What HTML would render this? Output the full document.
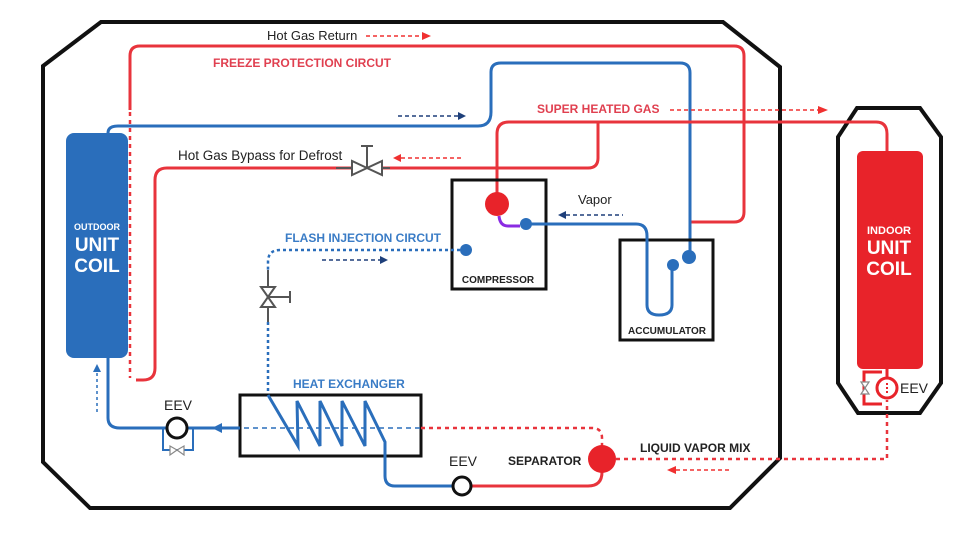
<!DOCTYPE html>
<html><head><meta charset="utf-8"><style>
html,body{margin:0;padding:0;background:#fff;}
svg{display:block;}
text{font-family:"Liberation Sans",sans-serif;}
.b{font-weight:bold;}
</style></head><body>
<svg width="960" height="544" viewBox="0 0 960 544" xmlns="http://www.w3.org/2000/svg">
<polygon points="43,66 101,22 723,22 780,67 780,458 730,508 90,508 43,462" fill="none" stroke="#111" stroke-width="4"/>
<polygon points="857,108 920,108 941,137 941,383 920,413 858,413 838,383 838,137" fill="none" stroke="#111" stroke-width="4"/>
<rect x="66" y="133" width="62" height="225" rx="8" fill="#2a6ebb"/>
<rect x="857" y="151" width="66" height="218" rx="6" fill="#e8232a"/>
<text x="97" y="230" fill="#fff" font-size="9" class="b" text-anchor="middle">OUTDOOR</text>
<text x="97" y="251" fill="#fff" font-size="19" class="b" text-anchor="middle">UNIT</text>
<text x="97" y="272" fill="#fff" font-size="19" class="b" text-anchor="middle">COIL</text>
<text x="889" y="234" fill="#fff" font-size="11" class="b" text-anchor="middle">INDOOR</text>
<text x="889" y="254" fill="#fff" font-size="19" class="b" text-anchor="middle">UNIT</text>
<text x="889" y="275" fill="#fff" font-size="19" class="b" text-anchor="middle">COIL</text>

<path d="M130,110 L130,56 Q130,46 140,46 L734,46 Q744,46 744,56 L744,212 Q744,222 734,222 L690,222" fill="none" stroke="#e8343c" stroke-width="3"/>
<path d="M130,112 L130,378" fill="none" stroke="#e8343c" stroke-width="2.5" stroke-dasharray="4,4"/>
<path d="M108,133 Q108,126 118,126 L478,126 Q491,126 491,112 L491,72 Q491,63 501,63 L680,63 Q690,63 690,73 L690,257" fill="none" stroke="#2a6ebb" stroke-width="3"/>
<path d="M497,200 L497,134 Q497,122 509,122 L876,122 Q887,122 887,134 L887,151" fill="none" stroke="#e8343c" stroke-width="3"/>
<path d="M598,122 L598,158 Q598,168 588,168 L380,168 M354,168 L167,168 Q155,168 155,180 L155,368 Q155,380 143,380 L136,380" fill="none" stroke="#e8343c" stroke-width="3"/>
<g stroke="#555" stroke-width="2" fill="#fff">
<line x1="336" y1="168" x2="390" y2="168"/>
<polygon points="352,161 352,175 367,168"/>
<polygon points="382,161 382,175 367,168"/>
<line x1="367" y1="168" x2="367" y2="146"/><line x1="361" y1="146" x2="373" y2="146"/>
</g>
<rect x="452" y="180" width="94" height="109" fill="none" stroke="#111" stroke-width="3"/>
<circle cx="497" cy="204" r="12" fill="#e8232a"/>
<path d="M499,216 Q500,226 508,226 L520,226" fill="none" stroke="#8a2be2" stroke-width="3"/>
<circle cx="526" cy="224" r="6" fill="#2a6ebb"/>
<circle cx="466" cy="250" r="6" fill="#2a6ebb"/>
<text x="498" y="283" font-size="10" class="b" text-anchor="middle" fill="#222">COMPRESSOR</text>
<rect x="620" y="240" width="93" height="100" fill="none" stroke="#111" stroke-width="3"/>
<path d="M526,224 L636,224 Q647,224 647,236 L647,305 Q647,315 659,315 Q672,315 672,305 L672,265" fill="none" stroke="#2a6ebb" stroke-width="3"/>
<circle cx="673" cy="265" r="6" fill="#2a6ebb"/>
<circle cx="689" cy="257" r="7" fill="#2a6ebb"/>
<text x="667" y="334" font-size="10" class="b" text-anchor="middle" fill="#222">ACCUMULATOR</text>
<path d="M460,250 L280,250 Q268,250 268,262 L268,272" fill="none" stroke="#2a6ebb" stroke-width="2.5" stroke-dasharray="3,3"/>
<path d="M268,322 L268,395" fill="none" stroke="#2a6ebb" stroke-width="2.5" stroke-dasharray="3,3"/>
<g stroke="#555" stroke-width="2" fill="#fff">
<line x1="268" y1="270" x2="268" y2="322"/>
<polygon points="261,287 275,287 268,297"/>
<polygon points="261,307 275,307 268,297"/>
<line x1="268" y1="297" x2="290" y2="297"/><line x1="290" y1="291" x2="290" y2="303"/>
</g>
<rect x="240" y="395" width="181" height="61" fill="none" stroke="#111" stroke-width="3"/>
<line x1="208" y1="428" x2="421" y2="428" stroke="#2a6ebb" stroke-width="1.5" stroke-dasharray="5,4"/>
<polyline points="268,395 298,446 297,401 320,446 320,401 342,446 342,401 365,446 365,401 385,442 385,460" fill="none" stroke="#2a6ebb" stroke-width="3"/>
<path d="M385,458 L385,476 Q385,486 395,486 L453,486" fill="none" stroke="#2a6ebb" stroke-width="3"/>
<path d="M471,486 L588,486 Q602,486 602,472" fill="none" stroke="#e8343c" stroke-width="3"/>
<circle cx="462" cy="486" r="9" fill="#fff" stroke="#111" stroke-width="3"/>
<path d="M421,428 L592,428 Q602,428 602,438 L602,446" fill="none" stroke="#e8343c" stroke-width="2.5" stroke-dasharray="4,4"/>
<circle cx="602" cy="459" r="14" fill="#e8232a"/>
<path d="M616,459 L887,459 L887,400" fill="none" stroke="#e8343c" stroke-width="2.5" stroke-dasharray="4,4"/>
<path d="M108,358 L108,418 Q108,428 120,428 L240,428" fill="none" stroke="#2a6ebb" stroke-width="3"/>
<polygon points="222,423 222,433 212,428" fill="#2a6ebb"/>
<path d="M163,428 L163,450 L193,450 L193,428" fill="none" stroke="#2a6ebb" stroke-width="2"/>
<g stroke="#888" stroke-width="1.2" fill="#fff"><polygon points="170,446 170,455 177,450"/><polygon points="184,446 184,455 177,450"/></g>
<circle cx="177" cy="428" r="10" fill="#fff" stroke="#111" stroke-width="3"/>
<text x="178" y="410" font-size="14" text-anchor="middle" fill="#222">EEV</text>
<path d="M97,412 L97,372" stroke="#2a6ebb" stroke-width="1.5" stroke-dasharray="3,3"/>
<polygon points="93,372 101,372 97,364" fill="#2a6ebb"/>
<path d="M887,369 L887,378" stroke="#e8232a" stroke-width="3"/>
<path d="M882,372 L864,372 L864,404 L882,404" fill="none" stroke="#e8232a" stroke-width="3"/>
<circle cx="887" cy="388" r="10" fill="#fff" stroke="#e8232a" stroke-width="3"/>
<line x1="887" y1="383" x2="887" y2="394" stroke="#e8232a" stroke-width="2" stroke-dasharray="2,2"/>
<g stroke="#888" stroke-width="1.2" fill="#fff"><polygon points="861,382 869,382 865,388"/><polygon points="861,394 869,394 865,388"/></g>
<text x="900" y="393" font-size="14" fill="#222">EEV</text>
<text x="463" y="466" font-size="14" text-anchor="middle" fill="#222">EEV</text>
<text x="267" y="40" font-size="13" fill="#222">Hot Gas Return</text>
<line x1="366" y1="36" x2="422" y2="36" stroke="#f03030" stroke-width="1.5" stroke-dasharray="4,3"/>
<polygon points="422,32 431,36 422,40" fill="#f03030"/>
<text x="213" y="67" font-size="12" class="b" fill="#e04050">FREEZE PROTECTION CIRCUT</text>
<line x1="398" y1="116" x2="458" y2="116" stroke="#1e3f7a" stroke-width="1.5" stroke-dasharray="4,3"/>
<polygon points="458,112 466,116 458,120" fill="#1e3f7a"/>
<text x="178" y="160" font-size="13.5" fill="#222">Hot Gas Bypass for Defrost</text>
<line x1="401" y1="158" x2="462" y2="158" stroke="#f03030" stroke-width="1.5" stroke-dasharray="4,3"/>
<polygon points="401,154 393,158 401,162" fill="#f03030"/>
<text x="537" y="113" font-size="12" class="b" fill="#e04050">SUPER HEATED GAS</text>
<line x1="670" y1="110" x2="818" y2="110" stroke="#f03030" stroke-width="1.5" stroke-dasharray="4,3"/>
<polygon points="818,106 828,110 818,114" fill="#f03030"/>
<text x="578" y="204" font-size="13" fill="#222">Vapor</text>
<line x1="566" y1="215" x2="623" y2="215" stroke="#1e3f7a" stroke-width="1.5" stroke-dasharray="4,3"/>
<polygon points="566,211 558,215 566,219" fill="#1e3f7a"/>
<text x="285" y="242" font-size="12" class="b" fill="#3a7cc6">FLASH INJECTION CIRCUT</text>
<line x1="322" y1="260" x2="380" y2="260" stroke="#1e3f7a" stroke-width="1.5" stroke-dasharray="4,3"/>
<polygon points="380,256 388,260 380,264" fill="#1e3f7a"/>
<text x="293" y="388" font-size="12" class="b" fill="#3a7cc6">HEAT EXCHANGER</text>
<text x="508" y="465" font-size="12" class="b" fill="#222">SEPARATOR</text>
<text x="640" y="452" font-size="12" class="b" fill="#222">LIQUID VAPOR MIX</text>
<line x1="676" y1="470" x2="732" y2="470" stroke="#f03030" stroke-width="1.5" stroke-dasharray="4,3"/>
<polygon points="676,466 667,470 676,474" fill="#f03030"/>
</svg>
</body></html>
